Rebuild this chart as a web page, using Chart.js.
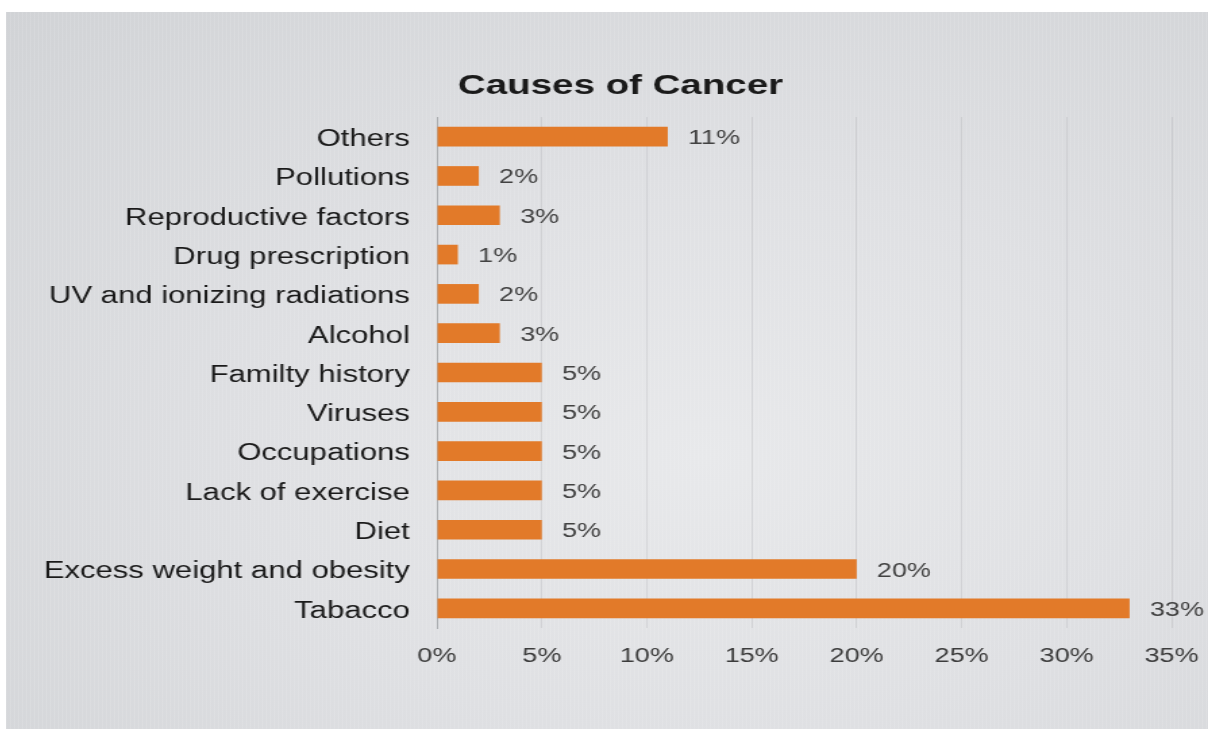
<!DOCTYPE html>
<html>
<head>
<meta charset="utf-8">
<title>Causes of Cancer</title>
<script src="https://cdn.jsdelivr.net/npm/chart.js@4/dist/chart.umd.min.js"></script>
<style>
    html, body { margin: 0; background: #fff; }
    #photo {
        position: absolute;
        left: 6px;
        top: 12px;
        width: 1202px;
        height: 717px;
        overflow: hidden;
        background:
            repeating-linear-gradient(90deg, rgba(255,255,255,0.10) 0 1px, rgba(0,0,0,0) 1px 4px),
            radial-gradient(ellipse at 58% 62%, #e8e9eb 0%, #dfe0e3 45%, #d1d3d6 100%);
    }
    /* the screen was shot at an angle, so everything reads wider than tall */
    #stretch {
        width: 890px;
        height: 717px;
        transform: scaleX(1.3506);
        transform-origin: 0 0;
    }
</style>
</head>
<body>
<div id="photo">
    <div id="stretch">
        <canvas id="chart" width="890" height="717"></canvas>
    </div>
</div>
<script>
const causes = [
    'Others',
    'Pollutions',
    'Reproductive factors',
    'Drug prescription',
    'UV and ionizing radiations',
    'Alcohol',
    'Familty history',
    'Viruses',
    'Occupations',
    'Lack of exercise',
    'Diet',
    'Excess weight and obesity',
    'Tabacco'
];
const shares = [11, 2, 3, 1, 2, 3, 5, 5, 5, 5, 5, 20, 33];
const axisMax = 35;
const tickStep = 5;
const titleText = 'Causes of Cancer';

const font = 'Liberation Sans, Arial, Helvetica, sans-serif';

// percentage next to the end of every bar
const valueLabels = {
    id: 'valueLabels',
    afterDatasetsDraw(chart) {
        const c = chart.ctx;
        const meta = chart.getDatasetMeta(0);
        c.save();
        c.font = `20px ${font}`;
        c.fillStyle = '#424242';
        c.textAlign = 'left';
        c.textBaseline = 'middle';
        meta.data.forEach((bar, i) => {
            c.fillText(shares[i] + '%', bar.x + 15, bar.y + 2);
        });
        c.restore();
    }
};

// title sits a bit left of the plot, over the category labels
const chartTitle = {
    id: 'chartTitle',
    afterDraw(chart) {
        const c = chart.ctx;
        const area = chart.chartArea;
        c.save();
        c.font = `bold 28.5px ${font}`;
        c.fillStyle = '#1a1a1a';
        c.textAlign = 'center';
        c.textBaseline = 'middle';
        c.fillText(titleText, area.left + 136, area.top - 31);
        c.restore();
    }
};

const ctx = document.getElementById('chart').getContext('2d');
const chart = new Chart(ctx, {
    type: 'bar',
    data: {
        labels: causes,
        datasets: [{
            data: shares,
            backgroundColor: '#e27a29',
            borderWidth: 0,
            barPercentage: 0.5,
            categoryPercentage: 1
        }]
    },
    options: {
        indexAxis: 'y',
        responsive: false,
        animation: false,
        devicePixelRatio: 1,
        layout: { padding: { left: 0, right: 27, top: 105, bottom: 0 } },
        scales: {
            x: {
                min: 0,
                max: axisMax,
                grid: { color: 'rgba(150,152,156,0.22)', drawTicks: false },
                border: { display: false },
                ticks: {
                    stepSize: tickStep,
                    padding: 16,
                    color: '#3c3c3c',
                    font: { family: font, size: 20 },
                    callback: v => v + '%'
                },
                afterFit(scale) {
                    scale.height = 101;
                    scale.paddingLeft = 0;
                    scale.paddingRight = 0;
                }
            },
            y: {
                grid: { display: false, drawTicks: false },
                border: { display: true, color: '#a9abae', width: 1 },
                ticks: {
                    autoSkip: false,
                    padding: 20,
                    labelOffset: 3,
                    color: '#1a1a1a',
                    font: { family: font, size: 23 }
                },
                afterFit(scale) { scale.width = 319; }
            }
        },
        plugins: {
            legend: { display: false },
            tooltip: { enabled: false },
            title: { display: false }
        }
    },
    plugins: [valueLabels, chartTitle]
});
</script>
</body>
</html>
